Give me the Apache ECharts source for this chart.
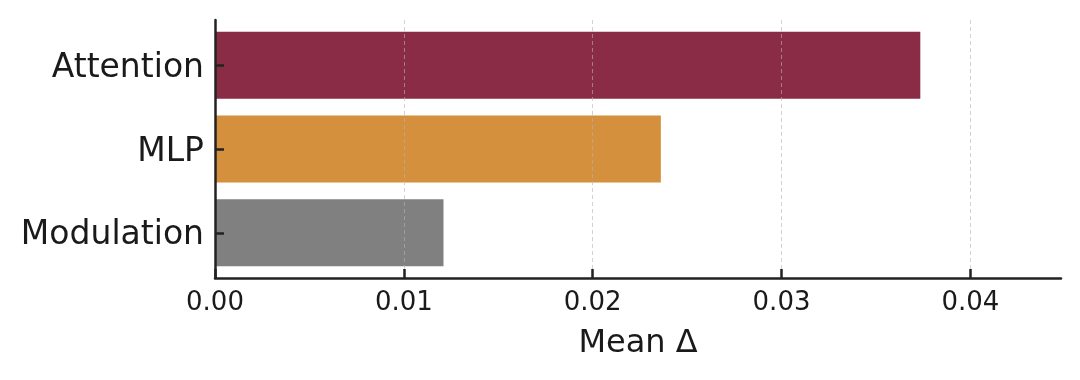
<!DOCTYPE html>
<html>
<meta charset="UTF-8">
<head>
    <title>Mean delta by component</title>
    <script src="https://cdn.jsdelivr.net/npm/echarts@6/dist/echarts.min.js"></script>
    <style>
        body { margin: 0; background: #fff; }
        #main { width: 1080px; height: 380px; }
    </style>
</head>
<body>
<div id="main"></div>
<script type="text/javascript">
    // data
    var categories = ['Attention', 'MLP', 'Modulation'];
    var meanDelta = [0.03735, 0.02361, 0.01210];
    var barColors = ['#8b2c46', '#d4903c', '#808080'];
    var xTicks = [0, 0.01, 0.02, 0.03, 0.04];
    var yTicks = [0, 1, 2];

    var font = 'DejaVu Sans';
    var ink = '#1a1a1a';

    var seriesData = [];
    for (var i = 0; i < categories.length; i++) {
        seriesData.push({ value: [meanDelta[i], i], itemStyle: { color: barColors[i] } });
    }

    var myChart = echarts.init(document.getElementById('main'));

    var option = {
        animation: false,
        backgroundColor: '#ffffff',
        grid: { left: 215, right: 19, top: 20, bottom: 102, containLabel: false },
        xAxis: {
            type: 'value',
            min: 0,
            max: 0.0448,
            z: 5,
            name: 'Mean Δ',
            nameLocation: 'middle',
            nameGap: 50,
            nameTextStyle: { fontFamily: font, fontSize: 32, color: ink },
            axisLine: { show: true, onZero: false, lineStyle: { color: '#222', width: 2.5 } },
            axisTick: { show: true, inside: true, length: 9, customValues: xTicks,
                lineStyle: { color: '#222', width: 2.5 } },
            axisLabel: { customValues: xTicks, margin: 12, fontFamily: font, fontSize: 26, color: ink,
                formatter: function (v) { return v.toFixed(2); } },
            splitLine: { show: true, lineStyle: { color: 'rgba(180,180,180,0.6)', width: 1, type: [4, 3] } }
        },
        yAxis: {
            type: 'value',
            min: -0.54,
            max: 2.54,
            inverse: true,
            z: 5,
            axisLine: { show: true, onZero: false, lineStyle: { color: '#222', width: 2.5 } },
            axisTick: { show: true, inside: true, length: 9, customValues: yTicks,
                lineStyle: { color: '#222', width: 2.5 } },
            axisLabel: { customValues: yTicks, margin: 11, color: ink,
                formatter: function (v) { return '{c|' + (categories[Math.round(v)] || '') + '}'; },
                rich: { c: { fontFamily: font, fontSize: 33, color: ink, padding: [6, 0, 0, 0] } } },
            splitLine: { show: false }
        },
        series: [{
            type: 'custom',
            renderItem: function (params, api) {
                var idx = api.value(1);
                var p0 = api.coord([0, idx - 0.4]);
                var p1 = api.coord([api.value(0), idx + 0.4]);
                return {
                    type: 'rect',
                    shape: { x: p0[0], y: Math.min(p0[1], p1[1]), width: p1[0] - p0[0], height: Math.abs(p1[1] - p0[1]) },
                    style: { fill: api.visual('color') }
                };
            },
            encode: { x: 0, y: 1 },
            z: 1,
            data: seriesData
        }]
    };

    myChart.setOption(option);
</script>
</body>
</html>
